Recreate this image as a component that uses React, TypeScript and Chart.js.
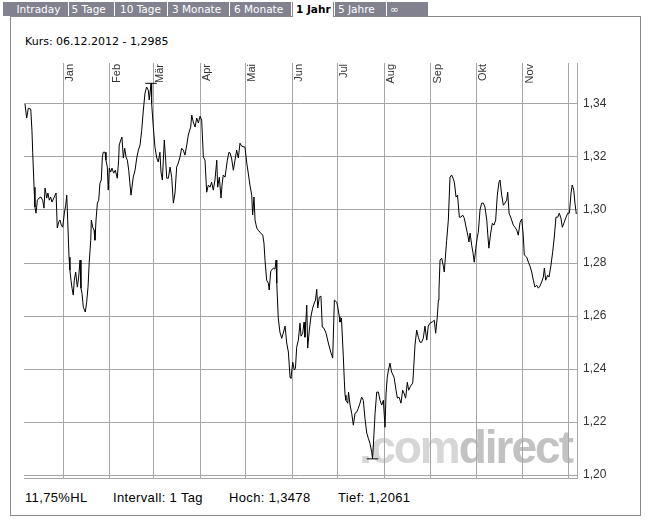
import React, { useEffect, useRef } from "react";
import { Chart, registerables } from "chart.js";

Chart.register(...registerables);

// ---- data (x = days since 01.01.2012, y = EUR/USD) ----
const kursQ1: [number, number][] = [
  [-25.2,1.3400],[-24.1,1.3347],[-23.0,1.3384],[-21.4,1.3381],[-20.6,1.3301],[-20.1,1.3218],[-19.2,1.3086],[-18.6,1.3011],[-17.9,1.2988],[-17.0,1.3037],
  [-15.9,1.3045],[-14.6,1.3049],[-13.5,1.3037],[-12.6,1.3007],[-11.9,1.3083],[-10.8,1.3045],[-10.0,1.3064],[-9.1,1.3037],[-8.2,1.3049],[-7.3,1.3030],
  [-5.8,1.3049],[-4.6,1.3064],[-3.8,1.2932],[-2.9,1.2954],[-2.0,1.2962],[-1.1,1.2943],[-0.2,1.2935],[0.9,1.2988],[1.8,1.3018],[2.5,1.3056],
  [3.1,1.2962],[4.0,1.2822],[4.6,1.2773],[5.3,1.2735],[6.0,1.2705],[6.8,1.2679],[7.5,1.2735],[8.4,1.2766],[9.5,1.2709],[10.4,1.2747],
  [11.3,1.2811],[11.9,1.2705],[12.6,1.2686],[13.5,1.2633],[14.8,1.2615],[15.7,1.2652],[16.6,1.2709],[17.4,1.2803],[18.4,1.2886],[18.8,1.2962],
  [19.7,1.2935],[20.6,1.2924],[21.2,1.2886],[21.9,1.2962],[22.8,1.3026],[23.7,1.3037],[24.5,1.3101],[25.4,1.3113],[26.1,1.3200],[26.7,1.3218],
  [27.9,1.3218],[28.5,1.3188],[29.4,1.3162],[30.0,1.3075],[30.7,1.3158],[31.6,1.3143],[32.5,1.3158],[33.6,1.3139],[34.7,1.3150],[36.0,1.3120],
  [36.9,1.3188],[37.3,1.3245],[38.3,1.3264],[39.1,1.3275],[40.0,1.3196],[40.9,1.3233],[41.8,1.3200],[42.7,1.3188],[43.6,1.3150],[45.1,1.3056],
  [46.6,1.3124],[47.8,1.3150],[48.9,1.3196],[50.0,1.3226],[51.1,1.3245],[52.2,1.3301],[53.3,1.3377],[54.4,1.3441],[55.5,1.3464],[56.6,1.3452],
  [57.2,1.3415],[58.4,1.3478],[58.8,1.3403],[59.9,1.3313],[61.0,1.3237],[62.2,1.3196],[63.2,1.3181],[64.3,1.3218],[65.0,1.3143],[65.9,1.3113],
  [67.2,1.3264],[68.1,1.3188],[68.8,1.3120],[69.9,1.3120],[71.0,1.3162],[72.1,1.3124],[73.2,1.3026],[74.3,1.3064],[75.4,1.3162],[76.5,1.3177],
  [77.6,1.3200],[78.7,1.3233],[79.8,1.3226],[80.9,1.3207],[82.1,1.3245],[83.1,1.3283],[84.7,1.3313],[85.4,1.3358],[86.4,1.3332],[87.6,1.3313],
  [88.7,1.3347],[89.8,1.3328],
];
const kursQ2: [number, number][] = [
  [90.9,1.3354],[92.0,1.3339],[93.1,1.3200],[94.2,1.3188],[95.3,1.3067],[96.4,1.3094],[97.5,1.3086],[98.6,1.3105],
  [99.7,1.3075],[100.8,1.3113],[102.0,1.3188],[102.6,1.3086],[103.7,1.3124],[104.8,1.3045],[105.5,1.3094],[106.3,1.3132],[107.5,1.3124],[109.0,1.3188],
  [110.1,1.3218],[110.8,1.3215],[111.8,1.3196],[113.0,1.3150],[114.1,1.3188],[115.2,1.3226],[116.3,1.3196],[117.4,1.3252],[118.5,1.3241],[120.7,1.3237],
  [121.9,1.3177],[122.9,1.3139],[124.0,1.3094],[125.2,1.3056],[125.8,1.2981],[126.7,1.3049],[127.4,1.2962],[128.5,1.2932],[129.4,1.2924],[130.7,1.2916],
  [132.5,1.2905],[133.3,1.2875],[134.0,1.2811],[135.1,1.2735],[136.2,1.2724],[136.8,1.2698],[137.8,1.2769],[139.5,1.2781],[140.6,1.2777],[141.3,1.2811],
  [141.8,1.2724],[142.8,1.2592],[143.9,1.2539],[145.1,1.2516],[146.1,1.2535],[147.3,1.2562],[148.4,1.2498],[149.5,1.2464],[150.6,1.2369],[151.2,1.2365],
  [152.4,1.2426],[153.4,1.2396],[154.2,1.2403],[155.0,1.2482],[156.1,1.2509],[157.2,1.2573],[157.9,1.2524],[159.0,1.2535],[159.9,1.2577],[160.5,1.2520],
  [161.7,1.2641],[162.3,1.2479],[163.4,1.2547],[164.5,1.2599],[165.6,1.2630],[166.7,1.2649],[167.5,1.2660],[168.3,1.2701],[169.0,1.2630],[170.0,1.2671],
  [171.1,1.2675],[172.0,1.2558],[173.1,1.2554],[174.5,1.2535],[176.0,1.2498],[177.6,1.2464],[178.9,1.2441],[180.0,1.2660],
];
const kursQ3: [number, number][] = [
  [181.6,1.2652],[182.4,1.2630],
  [183.3,1.2596],[183.7,1.2577],[184.7,1.2592],[185.9,1.2452],[186.6,1.2358],[187.1,1.2301],[187.7,1.2282],[188.9,1.2271],[189.4,1.2313],[190.4,1.2264],
  [191.5,1.2233],[192.6,1.2188],[193.7,1.2233],[194.8,1.2237],[195.9,1.2252],[197.0,1.2271],[198.1,1.2294],[199.2,1.2282],[200.3,1.2214],[201.5,1.2158],
  [202.5,1.2139],[203.6,1.2120],[204.8,1.2086],[205.3,1.2061],[205.8,1.2105],[207.0,1.2233],[208.1,1.2313],[209.2,1.2313],[210.3,1.2282],[211.4,1.2264],
  [212.5,1.2282],[213.6,1.2180],[214.3,1.2309],[215.1,1.2369],[215.9,1.2396],[216.9,1.2422],[218.0,1.2388],[219.6,1.2369],[220.9,1.2320],[221.8,1.2290],
  [222.9,1.2294],[224.2,1.2271],[225.3,1.2320],[226.2,1.2309],[227.3,1.2290],[228.4,1.2350],[229.3,1.2320],[230.5,1.2335],[232.0,1.2347],[232.8,1.2422],
  [233.5,1.2490],[234.6,1.2547],[235.7,1.2520],[236.8,1.2501],[237.9,1.2501],[239.0,1.2516],[240.1,1.2562],[241.3,1.2509],[242.3,1.2562],[243.4,1.2573],
  [244.8,1.2577],[246.3,1.2584],[247.2,1.2535],[248.3,1.2599],[249.0,1.2660],[249.4,1.2698],[250.1,1.2811],[251.2,1.2818],[252.3,1.2788],[252.9,1.2766],
  [253.4,1.2803],[254.5,1.2886],[255.6,1.2962],[256.7,1.3124],[257.8,1.3132],[258.7,1.3120],[259.6,1.3105],[260.7,1.3049],[261.7,1.3056],[262.9,1.2973],
  [264.0,1.2973],[265.1,1.2981],[266.2,1.2969],[267.1,1.2943],[268.5,1.2905],[269.3,1.2879],[270.0,1.2913],[271.1,1.2867],[272.0,1.2837],[272.8,1.2803],
];
const kursQ4: [number, number][] = [
  [273.8,1.2856],[274.8,1.2898],[275.5,1.2916],[276.6,1.3000],[277.7,1.3026],[278.8,1.3026],[279.9,1.3011],[281.1,1.2962],[281.7,1.2913],[282.5,1.2856],
  [283.7,1.2913],[284.8,1.2950],[285.9,1.2943],[287.0,1.2962],[288.1,1.3056],[289.2,1.3105],[289.9,1.3113],[291.0,1.3056],[292.1,1.3018],[293.2,1.3026],
  [294.3,1.3037],[295.0,1.3067],[295.9,1.2988],[297.2,1.2969],[298.7,1.2943],[299.8,1.2935],[301.0,1.2924],[302.0,1.2905],[303.2,1.2954],[304.3,1.2966],
  [305.3,1.2905],[306.0,1.2830],[307.6,1.2822],[308.7,1.2803],[309.8,1.2788],[310.9,1.2766],[312.0,1.2735],[313.1,1.2709],[314.2,1.2716],[315.3,1.2705],
  [316.4,1.2713],[317.5,1.2728],[318.6,1.2747],[319.3,1.2781],[320.2,1.2735],[321.5,1.2754],[322.4,1.2747],[323.7,1.2792],[324.8,1.2841],[325.9,1.2898],
  [327.0,1.2973],[328.2,1.2973],[329.2,1.2988],[330.3,1.2969],[331.2,1.2935],[332.5,1.2954],[333.7,1.2973],[334.8,1.2988],[335.9,1.2988],[337.0,1.3064],
  [337.8,1.3094],[338.8,1.3075],[339.6,1.3026],[340.5,1.2985],
];

const monthLabels = ["Jan", "Feb", "Mär", "Apr", "Mai", "Jun", "Jul", "Aug", "Sep", "Okt", "Nov", ""];
const monthStartDays = [0, 31, 60, 91, 121, 152, 182, 213, 244, 274, 305, 335];
const yTickValues = [1.2, 1.22, 1.24, 1.26, 1.28, 1.3, 1.32, 1.34];
const tabLabels = ["Intraday", "5 Tage", "10 Tage", "3 Monate", "6 Monate", "1 Jahr", "5 Jahre", "\u221E"];
const activeTab = "1 Jahr";
const hochValue = 1.3478;
const hochDay = 58.4;
const tiefValue = 1.2061;
const tiefDay = 205.3;
const kursText = "Kurs: 06.12.2012 - 1,2985";
const footerTexts = ["11,75%HL", "Intervall: 1 Tag", "Hoch: 1,3478", "Tief: 1,2061"];

// ---- layout (styling only) ----
const W = 656;
const H = 523;
const tabBoxes = [
  { l: 3, w: 65, tx: 16.5 },
  { l: 69, w: 45, tx: 71.5 },
  { l: 115, w: 52, tx: 120 },
  { l: 168, w: 61, tx: 172 },
  { l: 230, w: 61, tx: 234 },
  { l: 292, w: 42, tx: 296 },
  { l: 335, w: 51, tx: 338 },
  { l: 387, w: 41, tx: 390 },
];
const footerX = [25, 113, 229, 338];
const GRID = "#a6a6a6";

const fmt = (v: number) => v.toFixed(2).replace(".", ",");

export default function App() {
  const ref = useRef<HTMLCanvasElement | null>(null);

  useEffect(() => {
    const canvas = ref.current;
    if (!canvas) return;
    const series = [...kursQ1, ...kursQ2, ...kursQ3, ...kursQ4].map(([x, y]) => ({ x, y }));

    const watermark = {
      id: "watermark",
      beforeDraw(chart: any) {
        const { ctx, chartArea } = chart;
        ctx.save();
        ctx.font = 'bold 46px "Liberation Sans", Arial, sans-serif';
        (ctx as any).letterSpacing = "-2px";
        ctx.textBaseline = "alphabetic";
        ctx.textAlign = "left";
        const base = chartArea.bottom - 15;
        const part1 = ".com";
        const part2 = "direct";
        const w1 = ctx.measureText(part1).width;
        const w2 = ctx.measureText(part2).width;
        const x0 = chartArea.right - 5 - w1 - w2;
        ctx.fillStyle = "#d6d6d6";
        ctx.fillText(part1, x0, base);
        ctx.fillStyle = "#c2c2c2";
        ctx.fillText(part2, x0 + w1, base);
        ctx.restore();
      },
    };

    const frameAndLabels = {
      id: "frameAndLabels",
      afterDraw(chart: any) {
        const { ctx, chartArea, scales } = chart;
        ctx.save();
        ctx.strokeStyle = GRID;
        ctx.lineWidth = 1;
        ctx.beginPath();
        ctx.moveTo(chartArea.left, Math.round(chartArea.bottom) + 0.5);
        ctx.lineTo(chartArea.right + 1, Math.round(chartArea.bottom) + 0.5);
        ctx.stroke();
        ctx.fillStyle = "#333";
        ctx.font = '11px "Liberation Sans", Arial, sans-serif';
        ctx.textAlign = "right";
        ctx.textBaseline = "top";
        monthLabels.forEach((lab, i) => {
          if (!lab) return;
          const x = scales.x.getPixelForValue(monthStartDays[i]);
          ctx.save();
          ctx.translate(Math.round(x) + 1, chartArea.top + 1);
          ctx.rotate(-Math.PI / 2);
          ctx.fillText(lab, 0, 0);
          ctx.restore();
        });
        ctx.restore();
      },
    };

    const chart = new Chart(canvas, {
      type: "line",
      data: {
        datasets: [
          {
            data: series,
            borderColor: "#000",
            borderWidth: 1,
            pointRadius: 0,
            tension: 0,
            fill: false,
          },
          {
            data: [
              { x: hochDay - 3.8, y: hochValue },
              { x: hochDay + 3.8, y: hochValue },
            ],
            borderColor: "#000",
            borderWidth: 1,
            pointRadius: 0,
          },
          {
            data: [
              { x: tiefDay - 3.8, y: tiefValue },
              { x: tiefDay + 3.8, y: tiefValue },
            ],
            borderColor: "#000",
            borderWidth: 1,
            pointRadius: 0,
          },
        ],
      },
      options: {
        animation: false,
        responsive: false,
        maintainAspectRatio: false,
        events: [],
        layout: { padding: { left: 24, top: 63, bottom: 45, right: 0 } },
        plugins: { legend: { display: false }, tooltip: { enabled: false }, title: { display: false } },
        scales: {
          x: {
            type: "linear",
            position: "top",
            min: -25.87,
            max: 340.95,
            afterBuildTicks: (s: any) => {
              s.ticks = monthStartDays.map((v) => ({ value: v }));
            },
            afterFit: (s: any) => {
              s.height = 0;
            },
            ticks: { display: false },
            grid: { color: GRID, lineWidth: 1, drawTicks: false },
            border: { display: false },
          },
          y: {
            type: "linear",
            position: "right",
            min: 1.19887,
            max: 1.35547,
            afterBuildTicks: (s: any) => {
              s.ticks = yTickValues.map((v) => ({ value: v }));
            },
            afterFit: (s: any) => {
              s.width = 79;
            },
            ticks: {
              callback: (v: any) => fmt(Number(v)),
              font: { family: '"Liberation Sans", Arial, sans-serif', size: 12 },
              color: "#333",
              padding: 6,
            },
            grid: { color: GRID, lineWidth: 1, drawTicks: false },
            border: { display: true, color: GRID, width: 1 },
          },
        },
      },
      plugins: [watermark, frameAndLabels],
    } as any);

    return () => chart.destroy();
  }, []);

  return (
    <div
      style={{
        position: "fixed",
        left: 0,
        top: 0,
        width: W,
        height: H,
        background: "#fff",
        overflow: "hidden",
      }}
    >
      <div
        style={{
          position: "absolute",
          left: 10,
          top: 16,
          width: 631,
          height: 500,
          boxSizing: "border-box",
          border: "1px solid #8a8a8a",
        }}
      />
      {tabLabels.map((t, i) => {
        const b = tabBoxes[i];
        const active = t === activeTab;
        return (
          <div
            key={t}
            style={{
              position: "absolute",
              left: b.l,
              top: 2,
              width: b.w,
              height: active ? 15 : 14,
              background: active ? "#fff" : "#818190",
              borderLeft: active ? "1px solid #8a8a8a" : "none",
              borderRight: active ? "1px solid #8a8a8a" : "none",
              boxSizing: "border-box",
            }}
          >
            <span
              style={{
                position: "absolute",
                left: b.tx - b.l - (active ? 1 : 0),
                top: 0,
                lineHeight: "14px",
                fontFamily: '"DejaVu Sans", Verdana, sans-serif',
                fontSize: 10.5,
                fontWeight: active ? "bold" : "normal",
                color: active ? "#000" : "#fff",
                whiteSpace: "nowrap",
              }}
            >
              {t}
            </span>
          </div>
        );
      })}
      <div
        style={{
          position: "absolute",
          left: 25,
          top: 35,
          fontFamily: '"DejaVu Sans", Verdana, sans-serif',
          fontSize: 11,
          lineHeight: "14px",
          color: "#000",
          whiteSpace: "nowrap",
        }}
      >
        {kursText}
      </div>
      {footerTexts.map((t, i) => (
        <div
          key={t}
          style={{
            position: "absolute",
            left: footerX[i],
            top: 490,
            fontFamily: '"Liberation Sans", Arial, sans-serif',
            fontSize: 13,
            letterSpacing: "0.35px",
            lineHeight: "15px",
            color: "#000",
            whiteSpace: "nowrap",
          }}
        >
          {t}
        </div>
      ))}
      <canvas
        ref={ref}
        width={W}
        height={H}
        style={{ position: "absolute", left: 0, top: 0, width: W, height: H }}
      />
    </div>
  );
}
